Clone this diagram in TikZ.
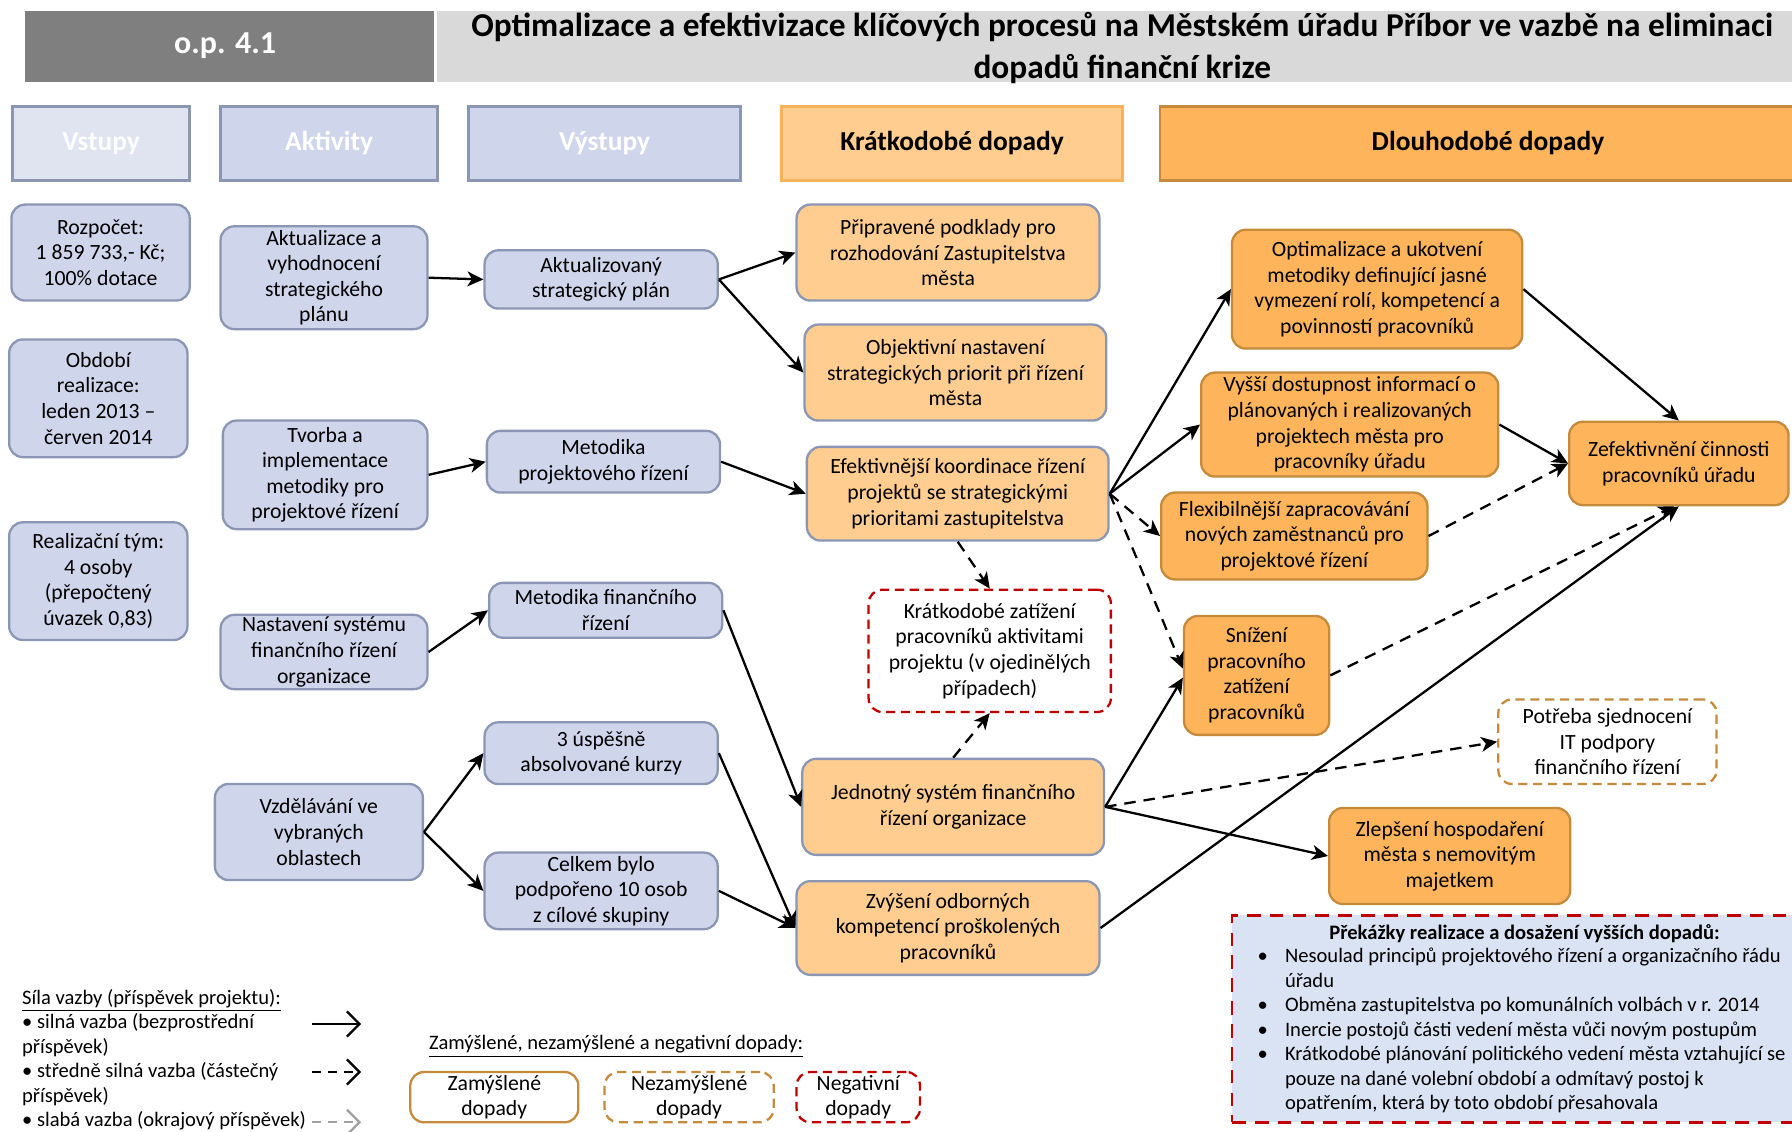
\documentclass[tikz,border=0pt]{standalone}
\usepackage{fontspec}
\setmainfont{Carlito}
\usetikzlibrary{arrows.meta}
\definecolor{bluefill}{HTML}{CFD5EA}
\definecolor{blueline}{HTML}{8A96B4}
\definecolor{vstupfill}{HTML}{E0E4F1}
\definecolor{ltorange}{HTML}{FFCD90}
\definecolor{myorange}{HTML}{FDB45B}
\definecolor{orline}{HTML}{C58A3C}
\definecolor{hdrorline}{HTML}{F7B25A}
\definecolor{negred}{HTML}{C00000}
\definecolor{obsfill}{HTML}{DAE3F3}
\definecolor{dgray}{HTML}{7F7F7F}
\definecolor{lgray}{HTML}{D9D9D9}
\definecolor{weakgray}{HTML}{A0A0A0}
\newcommand\bx[7]{\node[#2, minimum width={(#5-#3)*0.5pt}, minimum height={(#6-#4)*0.5pt}] (#1) at ({(#3+#5)/2},{(#4+#6)/2}) {#7};}
\tikzset{
  base/.style={rounded corners=6pt, line width=1pt, align=center, inner sep=1pt, font=\fontsize{9.5}{11.2}\selectfont, text=black},
  bluebox/.style={base, fill=bluefill, draw=blueline},
  lorbox/.style={base, fill=ltorange, draw=blueline},
  dorbox/.style={base, fill=myorange, draw=orline},
  negbox/.style={base, fill=white, draw=negred, dash pattern=on 4pt off 2.5pt},
  unbox/.style={base, fill=white, draw=orline, dash pattern=on 4pt off 2.5pt},
  hdr/.style={line width=1.2pt, font=\bfseries\fontsize{12}{14}\selectfont, text=white, align=center, inner sep=0pt},
  strong/.style={-{Stealth[length=7pt,width=6.5pt,inset=2pt]}, line width=1pt},
  medium/.style={strong, dash pattern=on 5pt off 3.5pt},
  legarrow/.style={-{Straight Barb[length=5.5pt,width=11pt]}, line width=1pt},
}
\begin{document}
\begin{tikzpicture}[x=0.5pt,y=-0.5pt]
\useasboundingbox (0,0) rectangle (1568,990);
% title
\bx{t1}{fill=dgray, draw=none, inner sep=0pt}{22}{10}{380}{72}{}
\bx{t2}{fill=lgray, draw=none, inner sep=0pt}{382}{10}{1575}{72}{}
\node[font=\bfseries\fontsize{14}{17}\selectfont, text=white] (t1txt) at (197,40) {o.p. 4.1};
\node[font=\bfseries\fontsize{14.6}{18}\selectfont, align=center, inner sep=0pt] (t2txt) at (982,42) {Optimalizace a efektivizace klíčových procesů na Městském úřadu Příbor ve vazbě na eliminaci\\dopadů finanční krize};
% headers
\bx{h1}{hdr, fill=vstupfill, draw=blueline}{11}{93}{166}{158}{Vstupy}
\bx{h2}{hdr, fill=bluefill, draw=blueline}{193}{93}{383}{158}{Aktivity}
\bx{h3}{hdr, fill=bluefill, draw=blueline}{410}{93}{648}{158}{Výstupy}
\bx{h4}{hdr, fill=ltorange, draw=hdrorline, text=black}{684}{93}{982}{158}{Krátkodobé dopady}
\bx{h5}{hdr, fill=myorange, draw=orline, text=black}{1015}{93}{1590}{158}{}
\node[font=\bfseries\fontsize{12}{14}\selectfont] (h5txt) at (1302,125) {Dlouhodobé dopady};
% inputs
\bx{in1}{bluebox}{10}{179}{166}{263}{Rozpočet:\\1 859 733,- Kč;\\100\% dotace}
\bx{in2}{bluebox}{8}{297}{164}{400}{Období\\realizace:\\leden 2013 –\\červen 2014}
\bx{in3}{bluebox}{8}{457}{164}{560}{Realizační tým:\\4 osoby\\(přepočtený\\úvazek 0,83)}
% activities
\bx{a1}{bluebox}{193}{198}{374}{288}{Aktualizace a\\vyhodnocení\\strategického\\plánu}
\bx{a2}{bluebox}{195}{368}{374}{463}{Tvorba a\\implementace\\metodiky pro\\projektové řízení}
\bx{a3}{bluebox}{193}{538}{374}{603}{Nastavení systému\\finančního řízení\\organizace}
\bx{a4}{bluebox}{188}{686}{370}{770}{Vzdělávání ve\\vybraných\\oblastech}
% outputs
\bx{v1}{bluebox}{424}{219}{628}{270}{Aktualizovaný\\strategický plán}
\bx{v2}{bluebox}{426}{377}{630}{431}{Metodika\\projektového řízení}
\bx{v3}{bluebox}{428}{510}{632}{558}{Metodika finančního\\řízení}
\bx{v4}{bluebox}{424}{632}{628}{686}{3 úspěšně\\absolvované kurzy}
\bx{v5}{bluebox}{424}{746}{628}{813}{Celkem bylo\\podpořeno 10 osob\\z cílové skupiny}
% short-term
\bx{k1}{lorbox}{697}{179}{962}{263}{Připravené podklady pro\\rozhodování Zastupitelstva\\města}
\bx{k2}{lorbox}{704}{284}{968}{368}{Objektivní nastavení\\strategických priorit při řízení\\města}
\bx{k3}{lorbox}{706}{391}{970}{473}{Efektivnější koordinace řízení\\projektů se strategickými\\prioritami zastupitelstva}
\bx{k4}{negbox}{760}{516}{972}{623}{Krátkodobé zatížení\\pracovníků aktivitami\\projektu (v ojedinělých\\případech)}
\bx{k5}{lorbox}{702}{664}{966}{748}{Jednotný systém finančního\\řízení organizace}
\bx{k6}{lorbox}{697}{771}{962}{853}{Zvýšení odborných\\kompetencí proškolených\\pracovníků}
% long-term
\bx{d1}{dorbox}{1078}{201}{1332}{305}{Optimalizace a ukotvení\\metodiky definující jasné\\vymezení rolí, kompetencí a\\povinností pracovníků}
\bx{d2}{dorbox}{1051}{326}{1311}{417}{Vyšší dostupnost informací o\\plánovaných i realizovaných\\projektech města pro\\pracovníky úřadu}
\bx{d3}{dorbox}{1016}{431}{1249}{507}{Flexibilnější zapracovávání\\nových zaměstnanců pro\\projektové řízení}
\bx{d4}{dorbox}{1036}{539}{1163}{643}{Snížení\\pracovního\\zatížení\\pracovníků}
\bx{d5}{dorbox}{1373}{369}{1565}{442}{Zefektivnění činnosti\\pracovníků úřadu}
\bx{d6}{unbox}{1311}{612}{1502}{686}{Potřeba sjednocení\\IT podpory\\finančního řízení}
\bx{d7}{dorbox}{1163}{707}{1374}{791}{Zlepšení hospodaření\\města s nemovitým\\majetkem}
% obstacles
\bx{obs}{fill=obsfill, draw=negred, line width=1.2pt, dash pattern=on 6pt off 4pt, inner sep=0pt}{1078}{801}{1590}{982}{}
\node[font=\bfseries\fontsize{9}{11}\selectfont] (obst) at (1334,817) {Překážky realizace a dosažení vyšších dopadů:};
\node[anchor=north west, align=left, inner sep=0pt, font=\fontsize{9}{10.75}\selectfont] (obsl) at (1100,829) {%
\makebox[12pt][l]{•}Nesoulad principů projektového řízení a organizačního řádu\\
\hspace*{12pt}úřadu\\
\makebox[12pt][l]{•}Obměna zastupitelstva po komunálních volbách v r. 2014\\
\makebox[12pt][l]{•}Inercie postojů části vedení města vůči novým postupům\\
\makebox[12pt][l]{•}Krátkodobé plánování politického vedení města vztahující se\\
\hspace*{12pt}pouze na dané volební období a odmítavý postoj k\\
\hspace*{12pt}opatřením, která by toto období přesahovala};
% connectors
\draw[strong] (a1.east) -- (v1.west);
\draw[strong] (a2.east) -- (v2.west);
\draw[strong] (a3.east) -- (v3.west);
\draw[strong] (a4.east) -- (v4.west);
\draw[strong] (a4.east) -- (v5.west);
\draw[strong] (v1.east) -- (k1.west);
\draw[strong] (v1.east) -- (k2.west);
\draw[strong] (v2.east) -- (k3.west);
\draw[strong] (v3.east) -- (k5.west);
\draw[strong] (v4.east) -- (k6.west);
\draw[strong] (v5.east) -- (k6.west);
\draw[strong] (k3.east) -- (d1.west);
\draw[strong] (k3.east) -- (d2.west);
\draw[medium] (k3.east) -- (d3.west);
\draw[medium] (k3.east) -- ([yshift=3pt]d4.west);
\draw[medium] (k3.south) -- (k4.north);
\draw[medium] (k5.north) -- (k4.south);
\draw[strong] (k5.east) -- ([yshift=-1pt]d4.west);
\draw[medium] (k5.east) -- (d6.west);
\draw[strong] (k5.east) -- (d7.west);
\draw[strong] (k6.east) -- (d5.south);
\draw[strong] (d1.east) -- (d5.north);
\draw[strong] (d2.east) -- (d5.west);
\draw[medium] (d3.east) -- (d5.west);
\draw[medium] (d4.east) -- ([xshift=-2pt]d5.south);
% legend
\node[anchor=north west, align=left, inner sep=0pt, font=\fontsize{9}{10.75}\selectfont] (leg) at (19,865) {%
\underline{Síla vazby (příspěvek projektu):}\\
• silná vazba (bezprostřední\\
příspěvek)\\
• středně silná vazba (částečný\\
příspěvek)\\
• slabá vazba (okrajový příspěvek)};
\coordinate (l1s) at (273,896); \coordinate (l1e) at (316,896);
\coordinate (l2s) at (273,938); \coordinate (l2e) at (316,938);
\coordinate (l3s) at (273,982); \coordinate (l3e) at (316,982);
\draw[legarrow] (l1s) -- (l1e);
\draw[legarrow, dash pattern=on 4pt off 3pt] (l2s) -- (l2e);
\draw[legarrow, dash pattern=on 4pt off 3pt, draw=weakgray] (l3s) -- (l3e);
\node[anchor=west, inner sep=0pt, font=\fontsize{9}{10.75}\selectfont] (leg2) at (375,916) {\underline{Zamýšlené, nezamýšlené a negativní dopady:}};
\bx{lz}{base, fill=white, draw=orline}{359}{938}{506}{982}{Zamýšlené\\dopady}
\bx{ln}{unbox}{529}{938}{677}{982}{Nezamýšlené\\dopady}
\bx{lg}{negbox}{697}{938}{805}{982}{Negativní\\dopady}
\end{tikzpicture}
\end{document}
